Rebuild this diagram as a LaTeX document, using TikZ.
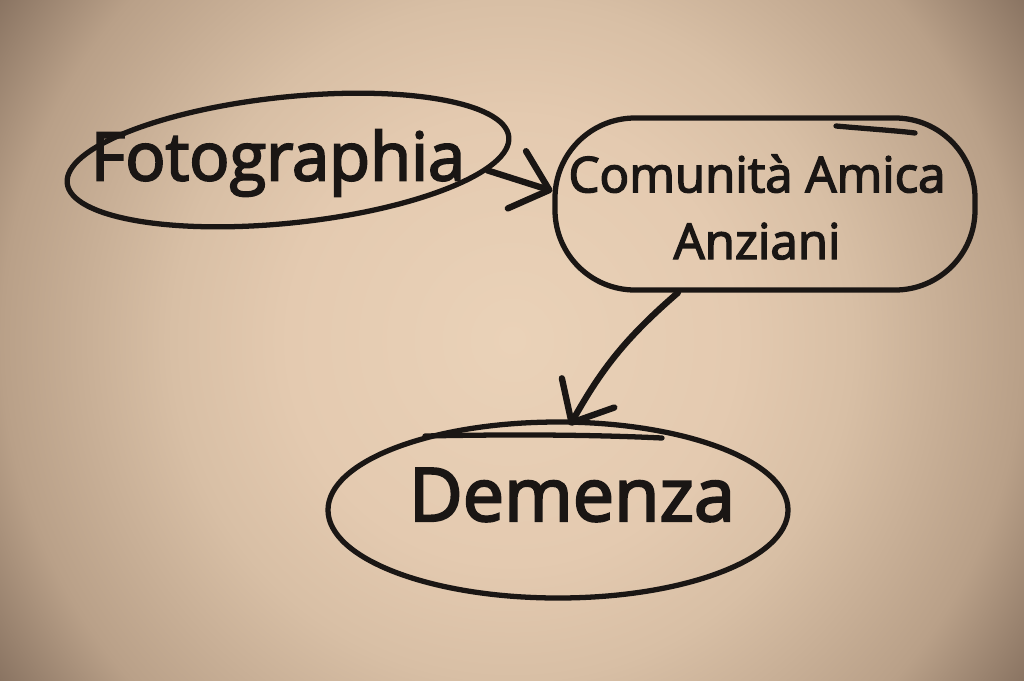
\documentclass[tikz,border=0pt]{standalone}
\usepackage{fontspec}
\newfontfamily\markerfont{Open Sans}[FakeBold=3]
\usetikzlibrary{arrows.meta,shapes,backgrounds}
\definecolor{PaperLight}{HTML}{EAD2B8}
\definecolor{PaperWarm}{HTML}{E4CAB0}
\definecolor{PaperTop}{HTML}{D8BFA5}
\definecolor{PaperMid}{HTML}{B9A088}
\definecolor{PaperDark}{HTML}{8A7462}
\definecolor{Marker}{HTML}{1A1614}
\pgfdeclareradialshading{paper}{\pgfpoint{0bp}{0bp}}{color(0bp)=(PaperLight); color(9bp)=(PaperWarm); color(13.7bp)=(PaperTop); color(20.6bp)=(PaperMid); color(24.8bp)=(PaperDark); color(50bp)=(PaperDark)}
\tikzset{
    ring/.style = {draw=Marker, ellipse, line width=1.5pt, inner sep=0pt},
    box/.style = {draw=Marker, rectangle, rounded corners=8mm, line width=1.5pt,
        inner sep=0pt},
    label/.style = {text=Marker, align=center, inner sep=0pt},
    stroke/.style = {draw=Marker, line width=1.5pt, line cap=round},
    arrow/.style = {draw=Marker, line width=1.8pt, line cap=round,
        -{Straight Barb[length=3.4mm,width=6mm,line cap=round,line join=round]}}
}
\begin{document}
\begin{tikzpicture}[x=0.1mm,y=-0.1mm]
            \useasboundingbox (0,0) rectangle (1024,680);
            \begin{scope}
            \clip (0,0) rectangle (1024,680);
            \shade[shading=paper] (-108,-280) rectangle (1132,960);
            \end{scope}
            % rings and boxes
            \node[ring,minimum width=44.4mm,minimum height=12.6mm,rotate=6] (fotoring) at (288,160) {};
            \node[box,minimum width=42mm,minimum height=17.2mm] (comubox) at (765,204) {};
            \node[ring,minimum width=46mm,minimum height=17.6mm] (demring) at (558,510) {};
            % texts
            \node[label,font=\markerfont\fontsize{19}{22}\selectfont] (foto) at (278,163) {Fotographia};
            \node[label,font=\markerfont\fontsize{14}{19}\selectfont] (comunita) at (757,207) {Comunità Amica\\Anziani};
            \node[label,font=\markerfont\fontsize{21}{26}\selectfont] (demenza) at (572,495) {Demenza};
            % overshoots
            \draw [stroke] (836,126) .. controls (870,129) and (900,131) .. (915,133);
            \draw [stroke] (425,436) .. controls (520,434) and (600,435) .. (662,438);
            % arrows
            \draw [arrow] (fotoring.-9) -- ([yshift=1.3mm]comubox.west);
            \draw [arrow] ([xshift=-8.7mm]comubox.south) to[bend right=10] ([xshift=1.2mm,yshift=-0.6mm]demring.north);
        \end{tikzpicture}
\end{document}
